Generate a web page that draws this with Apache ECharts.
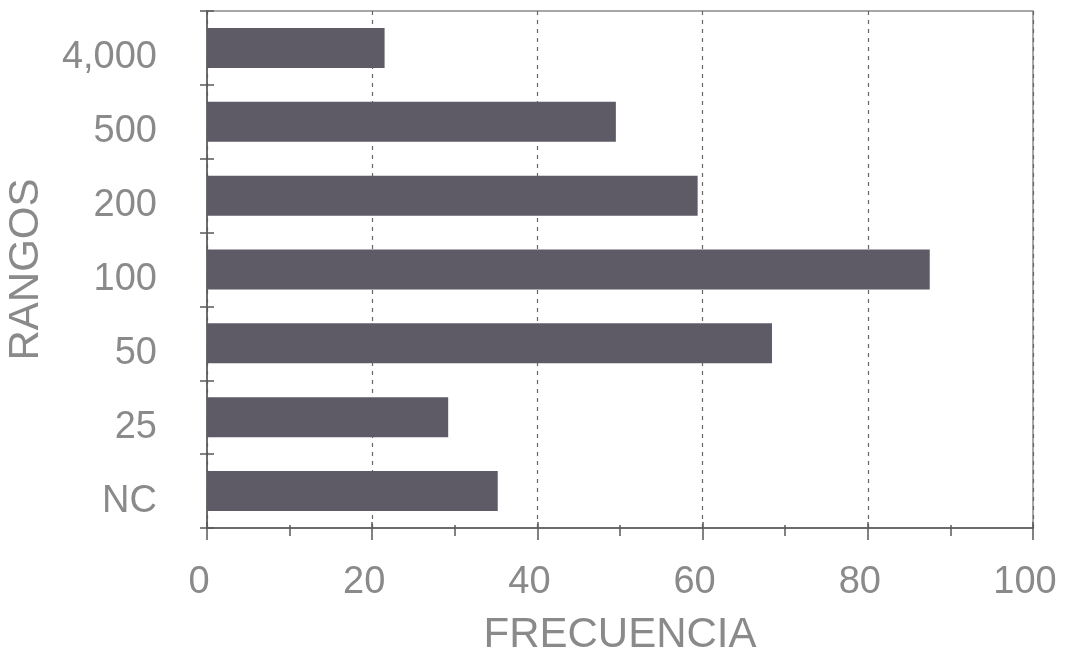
<!DOCTYPE html>
<html>
<head>
<meta charset="utf-8">
<script src="https://cdn.jsdelivr.net/npm/echarts@6/dist/echarts.min.js"></script>
<style>html,body{margin:0;padding:0;background:#fff}#c{width:1075px;height:653px}</style>
</head>
<body>
<div id="c"></div>
<script>
const categories = ['NC', '25', '50', '100', '200', '500', '4,000'];
const frecuencia = [35.2, 29.2, 68.4, 87.5, 59.4, 49.5, 21.5];
const xTicks = [0, 20, 40, 60, 80, 100];
const xName = 'FRECUENCIA';
const yName = 'RANGOS';

const txt = '#8a8a8a';
const axisCol = '#5a5a5a';
const font = '"Liberation Sans", Arial, sans-serif';

const chart = echarts.init(document.getElementById('c'), null, {renderer: 'canvas'});
chart.setOption({
  animation: false,
  backgroundColor: '#ffffff',
  grid: {left: 207, right: 42, top: 11, bottom: 125, show: true, borderColor: '#8a8a8a', borderWidth: 1.5,
         containLabel: false, outerBoundsMode: 'none'},
  xAxis: [{
    type: 'value', min: xTicks[0], max: xTicks[xTicks.length - 1], interval: 20,
    name: xName, nameLocation: 'middle', nameGap: 86,
    nameTextStyle: {color: txt, fontSize: 42, fontFamily: font},
    axisLine: {show: true, lineStyle: {color: axisCol, width: 1.5}},
    axisTick: {show: true, length: 12, lineStyle: {color: axisCol, width: 1.5}},
    minorTick: {show: true, splitNumber: 2, length: 8, lineStyle: {color: axisCol, width: 1.5}},
    axisLabel: {color: txt, fontSize: 38, fontFamily: font, margin: 36, padding: [0, 16, 0, 0]},
    splitLine: {show: true, lineStyle: {color: '#666', width: 1.2, type: [4, 5]}}
  }, {
    type: 'value', min: 0, max: 100, interval: 20, position: 'bottom',
    axisLine: {show: false},
    axisTick: {show: true, inside: true, length: 6, lineStyle: {color: axisCol, width: 1.5}},
    minorTick: {show: true, splitNumber: 2, length: 3, lineStyle: {color: axisCol, width: 1.5}},
    axisLabel: {show: false}, splitLine: {show: false}
  }],
  yAxis: [{
    type: 'category', data: categories,
    name: yName, nameLocation: 'middle', nameGap: 160, nameRotate: 90,
    nameTextStyle: {color: txt, fontSize: 42, fontFamily: font},
    axisLine: {show: true, lineStyle: {color: axisCol, width: 1.5}},
    axisTick: {show: true, length: 7, lineStyle: {color: axisCol, width: 1.5}},
    axisLabel: {color: txt, fontSize: 38, fontFamily: font, margin: 50, verticalAlign: 'top', lineHeight: 20},
    splitLine: {show: false}
  }, {
    type: 'category', data: categories, position: 'left',
    axisLine: {show: false},
    axisTick: {show: true, inside: true, length: 7, lineStyle: {color: axisCol, width: 1.5}},
    axisLabel: {show: false}, splitLine: {show: false}
  }],
  series: [{
    type: 'bar', data: frecuencia, barWidth: 40,
    itemStyle: {color: '#5e5b66'}
  }]
});
</script>
</body>
</html>
